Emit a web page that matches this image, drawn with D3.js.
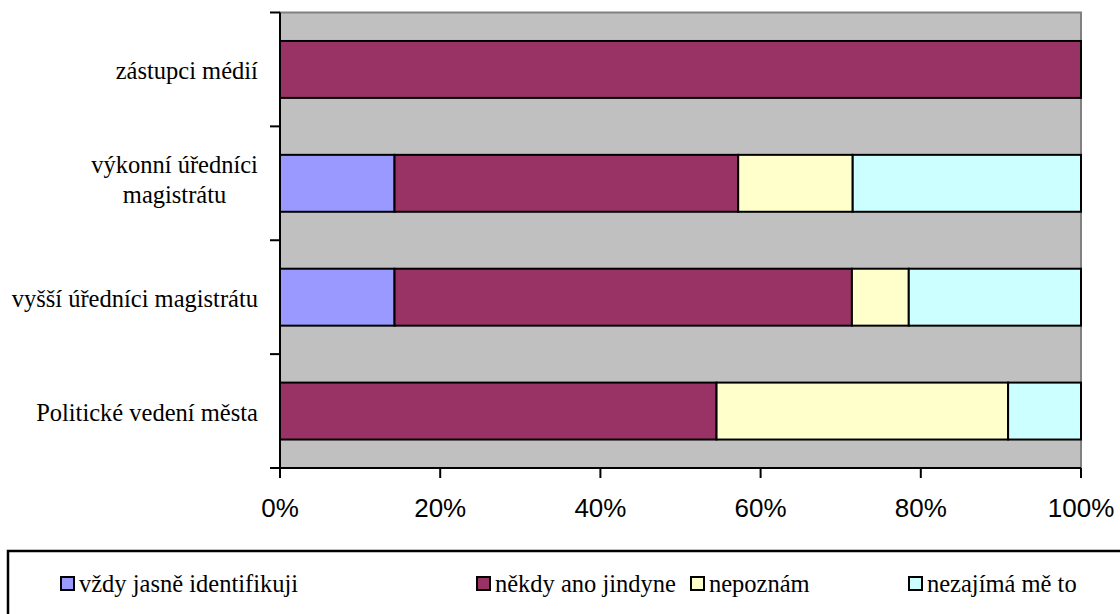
<!DOCTYPE html>
<html>
<head>
<meta charset="utf-8">
<script src="https://cdn.jsdelivr.net/npm/d3@7"></script>
<style>
  body { margin: 0; background: #fff; }
  svg { display: block; }
</style>
</head>
<body>
<svg id="chart" width="1120" height="614"></svg>
<script>
// categories top to bottom
const categories = [
  ["zástupci médií"],
  ["výkonní úředníci", "magistrátu"],
  ["vyšší úředníci magistrátu"],
  ["Politické vedení města"],
]
const seriesNames = ["vždy jasně identifikuji", "někdy ano jindyne", "nepoznám", "nezajímá mě to"]
const seriesColors = ["#9999FF", "#993366", "#FFFFCC", "#CCFFFF"]
// shares in percent, per category (same order as categories)
const vzdy = [0, 14.3, 14.3, 0]
const nekdy = [100, 42.9, 57.1, 54.5]
const nepoznam = [0, 14.3, 7.1, 36.4]
const nezajima = [0, 28.5, 21.5, 9.1]
const xTicks = [0, 20, 40, 60, 80, 100]

const SERIF = '"Liberation Serif", "Times New Roman", serif'
const SANS = '"Liberation Sans", Arial, sans-serif'

const svg = d3.select("#chart")
const plotL = 280, plotR = 1081, plotT = 12.5, plotB = 468

const x = d3.scaleLinear().domain([0, 100]).range([plotL, plotR])
const y = d3.scaleBand().domain(d3.range(categories.length)).range([plotT, plotB]).paddingInner(0.5).paddingOuter(0.25)

// plot background
svg.append("rect")
  .attr("x", plotL).attr("y", plotT)
  .attr("width", plotR - plotL).attr("height", plotB - plotT)
  .attr("fill", "#C0C0C0")
  .attr("stroke", "#808080").attr("stroke-width", 2)

const rows = categories.map((c, i) => [vzdy[i], nekdy[i], nepoznam[i], nezajima[i]])
const segs = []
rows.forEach((vals, i) => {
  let acc = 0
  vals.forEach((v, s) => {
    if (v > 0) segs.push({i, s, x0: acc, x1: acc + v})
    acc += v
  })
})

svg.append("g").selectAll("rect")
  .data(segs)
  .join("rect")
  .attr("x", (d) => x(d.x0))
  .attr("y", (d) => y(d.i))
  .attr("width", (d) => x(Math.min(100, d.x1)) - x(d.x0))
  .attr("height", y.bandwidth())
  .attr("fill", (d) => seriesColors[d.s])
  .attr("stroke", "#000").attr("stroke-width", 2)

// axes lines
const band = (plotB - plotT) / categories.length
const ax = svg.append("g").attr("stroke", "#000").attr("stroke-width", 2)
ax.append("line").attr("x1", plotL).attr("x2", plotL).attr("y1", plotT).attr("y2", plotB)
ax.append("line").attr("x1", plotL - 10).attr("x2", plotR).attr("y1", plotB).attr("y2", plotB)
d3.range(categories.length + 1).forEach((k) => {
  ax.append("line").attr("x1", plotL - 10).attr("x2", plotL).attr("y1", plotT + k * band).attr("y2", plotT + k * band)
})
xTicks.forEach((t) => {
  ax.append("line").attr("x1", x(t)).attr("x2", x(t)).attr("y1", plotB).attr("y2", plotB + 10)
})

// x tick labels
svg.append("g").style("font-family", SANS).selectAll("text")
  .data(xTicks)
  .join("text")
  .attr("x", (d) => x(d))
  .attr("y", 517)
  .attr("text-anchor", "middle")
  .attr("font-size", 26)
  .text((d) => d + "%")

// category labels, centred lines, block right-aligned next to the axis
const catG = svg.append("g").style("font-family", SERIF).attr("font-size", 24.5)
categories.forEach((lines, i) => {
  const cy = y(i) + y.bandwidth() / 2
  const lh = 30
  const n = lines.length
  const t = catG.append("text").attr("text-anchor", "middle")
  lines.forEach((ln, j) => {
    t.append("tspan").attr("x", 0)
      .attr("y", cy + 9.5 - (n - 1) * 5 + (j - (n - 1) / 2) * lh)
      .text(ln)
  })
  const w = t.node().getBBox().width
  t.attr("transform", `translate(${258 - w / 2},0)`)
})

// legend (box runs off the bottom and right edge)
svg.append("rect")
  .attr("x", 8).attr("y", 551).attr("width", 1140).attr("height", 90)
  .attr("fill", "#fff").attr("stroke", "#000").attr("stroke-width", 2.5)
const legX = [60, 476, 690, 908]
const lg = svg.append("g").style("font-family", SERIF).attr("font-size", 24.5)
seriesNames.forEach((name, s) => {
  lg.append("rect")
    .attr("x", legX[s] + 1).attr("y", 577).attr("width", 13).attr("height", 13)
    .attr("fill", seriesColors[s]).attr("stroke", "#000").attr("stroke-width", 2)
  lg.append("text").attr("x", legX[s] + 19).attr("y", 592).text(name)
})
</script>
</body>
</html>
